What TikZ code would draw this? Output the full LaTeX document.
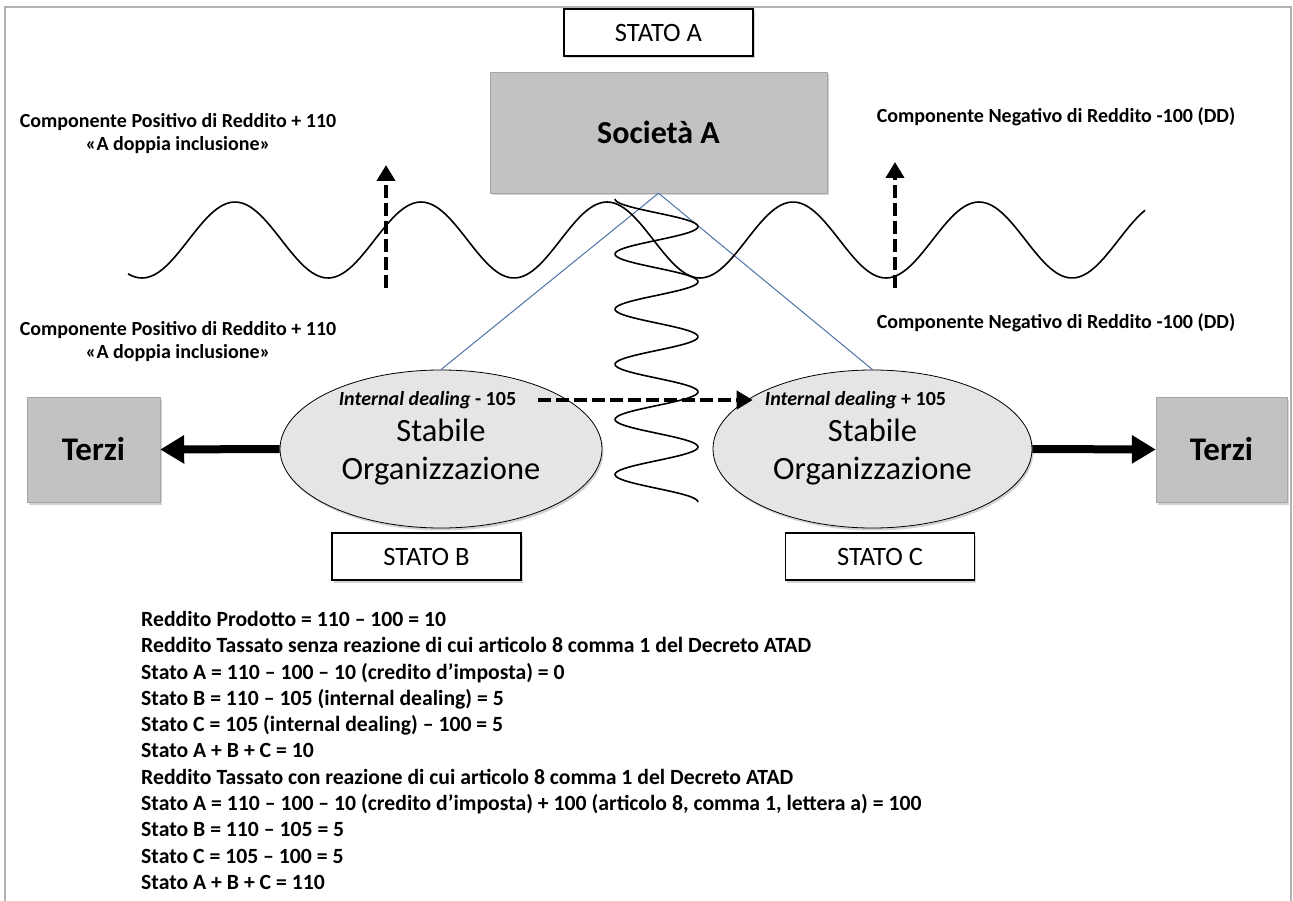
\documentclass[tikz,border=0pt]{standalone}
\usepackage{fontspec}
\setmainfont{Carlito}
\usetikzlibrary{arrows.meta,shapes.geometric,shadows}
\definecolor{linkblue}{RGB}{79,114,168}
\tikzset{
  softshadow/.style={drop shadow={opacity=0.35,shadow xshift=1.5pt,shadow yshift=-2.5pt}},
  statobox/.style={draw,line width=1.3pt,fill=white,minimum width=189pt,minimum height=47pt,
    inner sep=0pt,font=\fontsize{26.5}{30}\selectfont,softshadow},
  grigiobox/.style={draw=gray!70,fill=gray!48,inner sep=0pt,softshadow},
  soellipse/.style={ellipse,draw,line width=0.8pt,fill=gray!20,inner sep=0pt,softshadow},
  lbl/.style={font=\bfseries\fontsize{20}{23}\selectfont,align=center,inner sep=0pt},
  bigarrow/.style={line width=8pt,-{Triangle[length=24pt,width=27pt]}},
  dasharrow/.style={line width=4.5pt,dash pattern=on 13pt off 5pt,-{Triangle[length=16pt,width=18pt]}},
  linkline/.style={linkblue,line width=1pt}
}
\begin{document}
\begin{tikzpicture}[x=1pt,y=-1pt]
        \useasboundingbox (0,0) rectangle (1293,901);
        \draw[gray!60,line width=1.5pt] (5,901) -- (5,7) -- (1291,7) -- (1291,901);

        \node[statobox] (statoA) at (658.5,32.5) {STATO A};
        \node[grigiobox,minimum width=337pt,minimum height=121pt,
              font=\bfseries\fontsize{32}{38}\selectfont] (socA) at (658.5,132.5) {Società A};

        \node[soellipse,minimum width=322pt,minimum height=158pt] (soB) at (441,449) {};
        \node[soellipse,minimum width=319pt,minimum height=158pt] (soC) at (872.5,449) {};
        \node[font=\fontsize{32.5}{38}\selectfont,align=center] (soBtxt) at (441,452) {Stabile\\Organizzazione};
        \node[font=\fontsize{32.5}{38}\selectfont,align=center] (soCtxt) at (872.5,452) {Stabile\\Organizzazione};
        \node[font=\bfseries\fontsize{20}{24}\selectfont,inner sep=0pt] (idB) at (427.5,400) {\textit{Internal dealing} - 105};
        \node[font=\bfseries\fontsize{20}{24}\selectfont,inner sep=0pt] (idC) at (855.5,400) {\textit{Internal dealing} + 105};

        \node[grigiobox,minimum width=133pt,minimum height=105pt,
              font=\bfseries\fontsize{33}{38}\selectfont] (terziB) at (93.5,449.5) {Terzi};
        \node[grigiobox,minimum width=131pt,minimum height=105pt,
              font=\bfseries\fontsize{33}{38}\selectfont] (terziC) at (1221.5,449.5) {Terzi};

        \node[statobox] (statoB) at (426.5,556.5) {STATO B};
        \node[statobox] (statoC) at (880,556.5) {STATO C};

        \node[lbl] (posA) at (178,133.5) {Componente Positivo di Reddito + 110\\«A doppia inclusione»};
        \node[lbl] (posB) at (178,341.5) {Componente Positivo di Reddito + 110\\«A doppia inclusione»};
        \node[lbl] (negA) at (1056,117) {Componente Negativo di Reddito -100 (DD)};
        \node[lbl] (negB) at (1056,323) {Componente Negativo di Reddito -100 (DD)};

        \draw[linkline] (socA.south) -- (soB.north);
        \draw[linkline] (socA.south) -- (soC.north);

        \draw[line width=1.6pt,domain=128:1145,samples=300,variable=\x]
        plot({\x},{240+38*cos((\x-142)/186*360)});
        \draw[line width=1.6pt,domain=199:502,samples=200,variable=\y]
        plot({656.5-41.5*cos((\y-199)/55.1*360)},\y);

        \coordinate (upL0) at (386,288);
        \coordinate (upL1) at (386,165);
        \coordinate (upR0) at (895,288);
        \coordinate (upR1) at (895,162);
        \draw[dasharrow] (upL0) -- (upL1);
        \draw[dasharrow] (upR0) -- (upR1);
        \draw[dasharrow,shorten <=22pt,shorten >=12pt] (idB.east) -- (idC.west);

        \draw[bigarrow] (soB.west) -- (terziB.east);
        \draw[bigarrow] (soC.east) -- (terziC.west);

        \node[anchor=north west,align=left,inner sep=0pt,
              font=\bfseries\fontsize{21.7}{26.3}\selectfont] (calc) at (141,611) {%
        Reddito Prodotto = 110 – 100 = 10\\
        Reddito Tassato senza reazione di cui articolo 8 comma 1 del Decreto ATAD\\
        Stato A = 110 – 100 – 10 (credito d’imposta) = 0\\
        Stato B = 110 – 105 (internal dealing) = 5\\
        Stato C = 105 (internal dealing) – 100 = 5\\
        Stato A + B + C = 10\\
        Reddito Tassato con reazione di cui articolo 8 comma 1 del Decreto ATAD\\
        Stato A = 110 – 100 – 10 (credito d’imposta) + 100 (articolo 8, comma 1, lettera a) = 100\\
        Stato B = 110 – 105 = 5\\
        Stato C = 105 – 100 = 5\\
        Stato A + B + C = 110};
\end{tikzpicture}
\end{document}
